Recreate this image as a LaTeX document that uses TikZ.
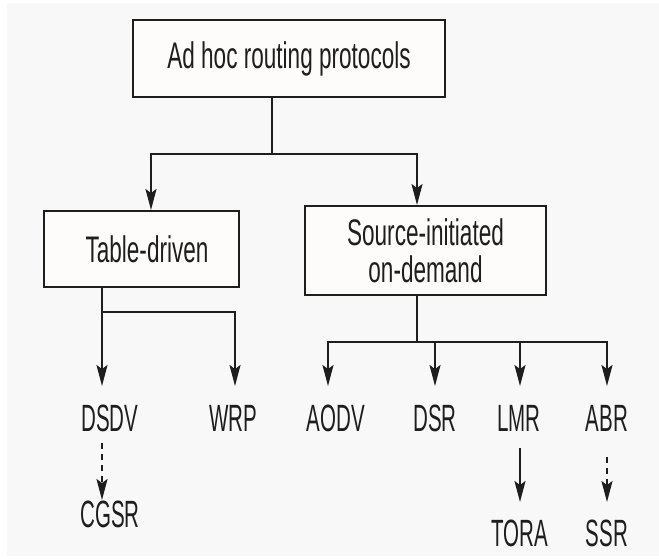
\documentclass[tikz,border=0pt]{standalone}
\usepackage{fontspec}
\setmainfont{Liberation Sans}[FakeStretch=0.61]
\newfontfamily\lblfont{Liberation Sans}[FakeStretch=0.54]
\usetikzlibrary{arrows.meta}
\definecolor{bg}{HTML}{F8F8F8}
\definecolor{boxfill}{HTML}{FDFCFB}
\definecolor{ink}{HTML}{1E1E1E}
\begin{document}
\begin{tikzpicture}[x=1pt,y=-1pt,
  box/.style={draw=ink,line width=2.5pt,fill=boxfill,inner sep=0pt,
    font=\fontsize{37}{37}\selectfont,text=ink,align=center},
  lbl/.style={inner sep=0pt,font=\lblfont\fontsize{38}{40}\selectfont,text=ink},
  conn/.style={draw=ink,line width=2pt},
  arr/.style={conn,-{Stealth[length=21pt,width=11pt,inset=4pt]}},
  darr/.style={arr,dash pattern=on 6pt off 5pt}]
\useasboundingbox (0,0) rectangle (659,558);
\fill[white] (0,0) rectangle (659,558);
\fill[bg] (7,3) rectangle (659,556);
% boxes
\node[box,minimum width=312pt,minimum height=77pt] (top) at (289,58.5) {Ad hoc routing protocols};
\node[box,minimum width=195pt,minimum height=76pt] (td) at (141.5,249) {\hspace*{11pt}Table-driven};
\node[box,minimum width=241pt,minimum height=89pt] (si) at (425.5,250.5) {Source-initiated\\on-demand};
% labels
\node[lbl] (dsdv) at (110,418) {DSDV};
\node[lbl] (wrp)  at (233,418) {WRP};
\node[lbl] (aodv) at (336,418) {AODV};
\node[lbl] (dsr)  at (435,418) {DSR};
\node[lbl] (lmr)  at (519,418) {LMR};
\node[lbl] (abr)  at (607,418) {ABR};
\node[lbl] (cgsr) at (110,514) {CGSR};
\node[lbl] (tora) at (520,533) {TORA};
\node[lbl] (ssr)  at (607,533) {SSR};
% junction and tip coordinates
\coordinate (j0) at (272,154);
\coordinate (tTD) at (151,210);
\coordinate (tSI) at (417,205);
\coordinate (j1) at (102,312);
\coordinate (j2) at (417,342);
\coordinate (tDSDV) at (102,386);
\coordinate (tWRP) at (235,386);
\coordinate (tAODV) at (328,386);
\coordinate (tDSR) at (435,386);
\coordinate (tLMR) at (520,386);
\coordinate (tABR) at (607,386);
\coordinate (sDSDV) at (102,443);
\coordinate (tCGSR) at (102,500);
\coordinate (sLMR) at (520,448);
\coordinate (tTORA) at (520,502);
\coordinate (sABR) at (607,457);
\coordinate (tSSR) at (607,502);
% level 1
\draw[conn] (top.south -| j0) -- (j0);
\draw[arr] (j0) -| (tTD);
\draw[arr] (j0) -| (tSI);
% table-driven
\draw[arr] (td.south -| tDSDV) -- (tDSDV);
\draw[arr] (j1) -| (tWRP);
% source-initiated
\draw[conn] (si.south -| j2) -- (j2);
\draw[arr] (j2) -| (tAODV);
\draw[arr] (j2) -| (tABR);
\draw[arr] (tDSR |- j2) -- (tDSR);
\draw[arr] (tLMR |- j2) -- (tLMR);
% second level
\draw[darr] (sDSDV) -- (tCGSR);
\draw[arr] (sLMR) -- (tTORA);
\draw[darr] (sABR) -- (tSSR);
\end{tikzpicture}
\end{document}
